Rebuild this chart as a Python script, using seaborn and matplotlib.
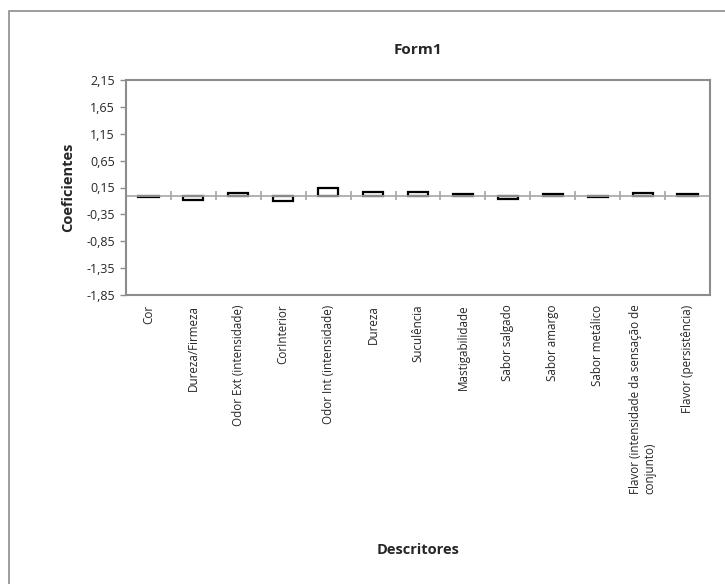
import pandas as pd
import matplotlib
matplotlib.use('Agg')
import matplotlib.pyplot as plt
import seaborn as sns
from matplotlib.patches import Rectangle

# Descriptors and their coefficients
descritores = ['Cor', 'Dureza/Firmeza', 'Odor Ext (intensidade)', 'CorInterior',
               'Odor Int (intensidade)', 'Dureza', 'Suculência', 'Mastigabilidade',
               'Sabor salgado', 'Sabor amargo', 'Sabor metálico',
               'Flavor (intensidade da sensação de\nconjunto)', 'Flavor (persistência)']
coeficientes = [-0.03, -0.08, 0.05, -0.11, 0.15, 0.07, 0.07, 0.03,
                -0.06, 0.03, -0.02, 0.05, 0.03]

y_ticks = [-1.85, -1.35, -0.85, -0.35, 0.15, 0.65, 1.15, 1.65, 2.15]
y_tick_labels = ['-1,85', '-1,35', '-0,85', '-0,35', '0,15', '0,65', '1,15', '1,65', '2,15']

df = pd.DataFrame({'Descritor': descritores, 'Coeficiente': coeficientes})

sns.set_style('white')
plt.rcParams['font.family'] = ['Open Sans', 'DejaVu Sans']

fig = plt.figure(figsize=(7.25, 5.84), dpi=100)
ax = fig.add_axes([126 / 725, 1 - 295 / 584, (710 - 126) / 725, (295 - 80) / 584])

# Outer chart frame
fig.patches.append(Rectangle((9 / 725, -0.1), 1.2, 0.1 + (584 - 11) / 584,
                             transform=fig.transFigure, fill=False,
                             edgecolor='#8c8c8c', linewidth=1.2))

sns.barplot(ax=ax, data=df, x='Descritor', y='Coeficiente', order=descritores,
            color='white', edgecolor='black', linewidth=1.6, width=0.45,
            saturation=1)

# Zero axis with category separators
ax.axhline(0, color='#a6a6a6', linewidth=1.2, zorder=1)
n = len(descritores)
ax.vlines([i + 0.5 for i in range(n - 1)], -0.085, 0.085,
          color='#a6a6a6', linewidth=1.2, zorder=1)

ax.set_xlim(-0.5, n - 0.5)
ax.set_ylim(-1.85, 2.15)
ax.set_yticks(y_ticks)
ax.set_yticklabels(y_tick_labels)

for s in ax.spines.values():
    s.set_visible(True)
    s.set_color('#8c8c8c')
    s.set_linewidth(1.5)

ax.tick_params(axis='y', direction='out', length=4, width=1, color='#8c8c8c',
               left=True, labelsize=9, pad=4)
ax.tick_params(axis='x', length=0, pad=7, labelsize=8.4)
for lbl in ax.get_xticklabels():
    lbl.set_rotation(90)
    lbl.set_ha('center')
    lbl.set_va('top')
    lbl.set_multialignment('left')

ax.set_xlabel('')
ax.set_ylabel('Coeficientes', fontsize=10.5, fontweight='bold', labelpad=8)

fig.text(418 / 725, 1 - 550 / 584, 'Descritores', ha='center', va='center',
         fontsize=10.5, fontweight='bold')
fig.text(418 / 725, 1 - 50 / 584, 'Form1', ha='center', va='center',
         fontsize=11, fontweight='bold')

fig.savefig('out.png', dpi=100)
